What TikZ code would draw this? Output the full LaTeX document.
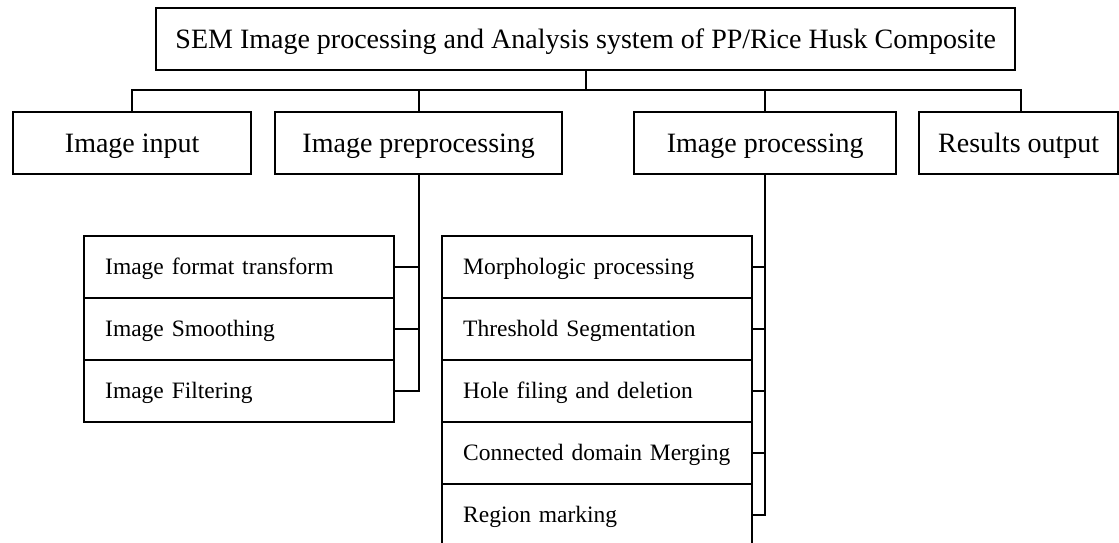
\documentclass[tikz,border=0pt]{standalone}
\usepackage{fontspec}
\setmainfont{Liberation Serif}
\usetikzlibrary{calc}
\tikzset{
  line/.style={line width=2.4pt, line cap=rect},
  mainbox/.style={draw, line width=2.4pt, anchor=north west, inner sep=0pt, align=center,
    text height=18.5pt, text depth=0pt, font=\fontsize{28}{32}\selectfont},
  subbox/.style={draw, line width=2.4pt, anchor=north west, inner ysep=0pt, inner xsep=21pt,
    text width=268pt, minimum height=62pt, align=left, text height=15.5pt, text depth=0pt,
    font=\fontsize{23.5}{28}\selectfont},
}
\begin{document}
\begin{tikzpicture}[x=1pt,y=-1pt]
\clip (0,0) rectangle (1119,543);
\fill[white] (0,0) rectangle (1119,543);
\node[mainbox, minimum width=859pt, minimum height=62pt] (title) at (155,7) {SEM Image processing and Analysis system of PP/Rice Husk Composite};
\node[mainbox, minimum width=238pt, minimum height=62pt] (in) at (12,111) {Image input};
\node[mainbox, minimum width=287pt, minimum height=62pt] (pre) at (274,111) {Image preprocessing};
\node[mainbox, minimum width=262pt, minimum height=62pt] (proc) at (633,111) {Image processing};
\node[mainbox, minimum width=199pt, minimum height=62pt] (res) at (918,111) {Results output};
\coordinate (bus) at (0,90);
\coordinate (resdrop) at (1021,0);
% left sub boxes
\node[subbox] (a1) at (83,235) {Image format transform};
\node[subbox] (a2) at (83,297) {Image Smoothing};
\node[subbox] (a3) at (83,359) {Image Filtering};
% right sub boxes
\node[subbox] (b1) at (441,235) {Morphologic processing};
\node[subbox] (b2) at (441,297) {Threshold Segmentation};
\node[subbox] (b3) at (441,359) {Hole filing and deletion};
\node[subbox] (b4) at (441,421) {Connected domain Merging};
\node[subbox] (b5) at (441,483) {Region marking};
% connectors top
\draw[line] (title.south) -- (title.south |- bus);
\draw[line] (in.north) -- (in.north |- bus) -- (resdrop |- bus) -- (resdrop |- res.north);
\draw[line] (pre.north) -- (pre.north |- bus);
\draw[line] (proc.north) -- (proc.north |- bus);
% left tree
\draw[line] (pre.south) -- (pre.south |- a3.east) -- (a3.east);
\draw[line] (a1.east) -- (a1.east -| pre.south);
\draw[line] (a2.east) -- (a2.east -| pre.south);
% right tree
\draw[line] (proc.south) -- (proc.south |- b5.east) -- (b5.east);
\draw[line] (b1.east) -- (b1.east -| proc.south);
\draw[line] (b2.east) -- (b2.east -| proc.south);
\draw[line] (b3.east) -- (b3.east -| proc.south);
\draw[line] (b4.east) -- (b4.east -| proc.south);
\end{tikzpicture}
\end{document}
